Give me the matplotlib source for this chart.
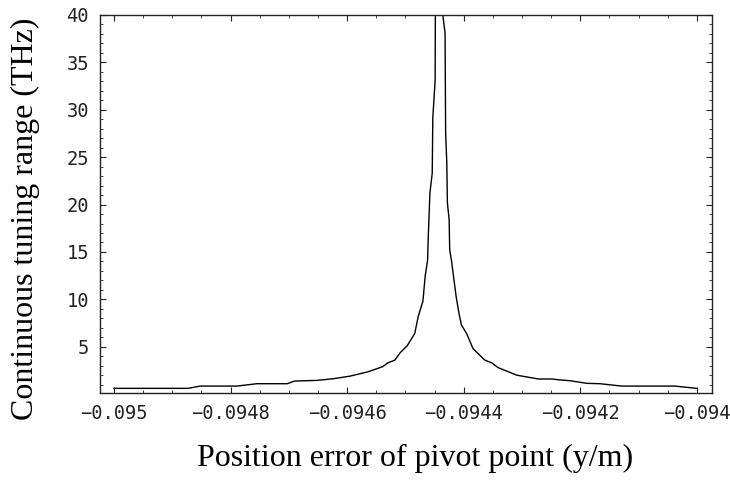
import numpy as np
import matplotlib
matplotlib.use("Agg")
import matplotlib.pyplot as plt
from matplotlib.ticker import MultipleLocator, FixedLocator

# ------------------------------------------------------------
# data (position error, tuning range)
# ------------------------------------------------------------
pos_err = [-0.095, -0.094873, -0.094852, -0.094789, -0.094755, -0.094703,
           -0.094690, -0.094652, -0.094624, -0.094595, -0.094564, -0.094539,
           -0.094530, -0.094518, -0.094509, -0.094497, -0.094484, -0.094478,
           -0.094470, -0.094466, -0.094462, -0.094461, -0.094458, -0.094454,
           -0.094453, -0.094449, -0.094443, -0.094437, -0.094432, -0.094431,
           -0.094429, -0.094428, -0.094425, -0.094424, -0.094421, -0.094413,
           -0.094408, -0.094404, -0.094395, -0.094384, -0.094364, -0.094352,
           -0.094341, -0.094309, -0.094272, -0.094249, -0.094235, -0.094218,
           -0.094189, -0.094166, -0.094129, -0.094038, -0.094]
tuning = [0.61, 0.61, 0.85, 0.85, 1.1, 1.1,
          1.38, 1.45, 1.62, 1.9, 2.36, 2.9,
          3.3, 3.6, 4.37, 5.1, 6.4, 8.2,
          9.8, 12.5, 14.1, 16.25, 21.2, 23.3,
          29.2, 33.1, 150.0, 40.6, 38.1, 27.5,
          24.4, 20.2, 18.4, 15.2, 14.1, 10.3,
          8.5, 7.3, 6.4, 4.8, 3.6, 3.3,
          2.8, 2.0, 1.6, 1.6, 1.5, 1.42,
          1.14, 1.1, 0.85, 0.85, 0.61]

x_major = [-0.095, -0.0948, -0.0946, -0.0944, -0.0942, -0.094]
x_labels = ["\u22120.095", "\u22120.0948", "\u22120.0946", "\u22120.0944", "\u22120.0942", "\u22120.094"]
y_major = [5, 10, 15, 20, 25, 30, 35, 40]

# ------------------------------------------------------------
# plot
# ------------------------------------------------------------
fig = plt.figure(figsize=(7.3, 4.82), dpi=100)
ax = fig.add_axes([100 / 730, 1 - 393 / 482, 612 / 730, 378 / 482])

ax.plot(pos_err, tuning, color="black", linewidth=1.0)

ax.set_xlim(-0.095024, -0.093974)
ax.set_ylim(0.12, 40)

ax.xaxis.set_major_locator(FixedLocator(x_major))
ax.set_xticklabels(x_labels)
ax.xaxis.set_minor_locator(MultipleLocator(0.00005))
ax.yaxis.set_major_locator(FixedLocator(y_major))
ax.yaxis.set_minor_locator(MultipleLocator(1))

ax.tick_params(which="both", direction="in", top=True, right=True,
               colors="#222222", labelcolor="#222222")
ax.tick_params(which="major", length=4.5, width=0.8, pad=8,
               labelsize=13.5)
ax.tick_params(which="minor", length=2.5, width=0.6)
for lab in ax.get_xticklabels() + ax.get_yticklabels():
    lab.set_family("DejaVu Sans Mono")

for spine in ax.spines.values():
    spine.set_color("#222222")
    spine.set_linewidth(1.0)

ax.set_xlabel("Position error of pivot point (y/m)", family="Liberation Serif",
              fontsize=23, va="center")
ax.set_ylabel("Continuous tuning range (THz)", family="Liberation Serif",
              fontsize=23, va="center")
ax.xaxis.set_label_coords((415 - 100) / 612, -(458 - 393) / 378)
ax.yaxis.set_label_coords(-(100 - 25) / 612, (393 - 219) / 378)

plt.savefig("out.png", dpi=100)
